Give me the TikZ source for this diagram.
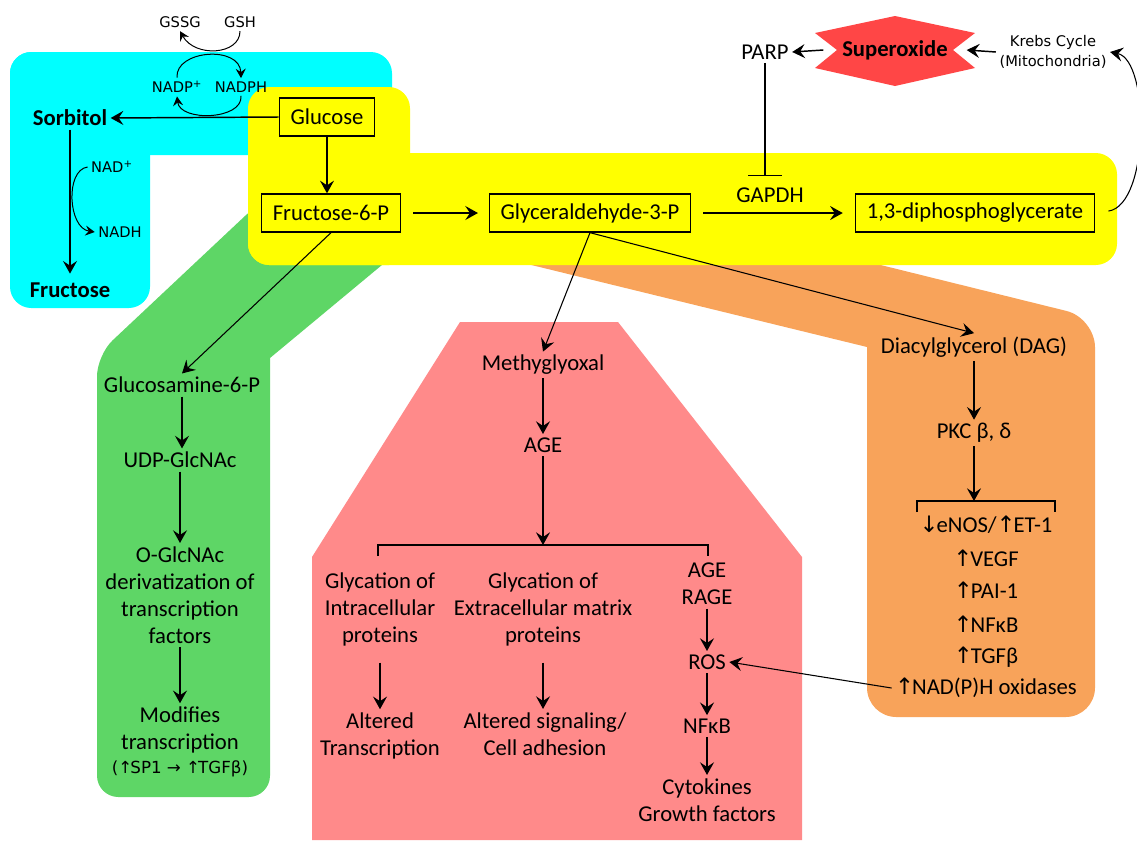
\documentclass[tikz,border=0pt]{standalone}
\usepackage{fontspec}
\setmainfont{Carlito}
\newfontfamily\symsans{DejaVu Sans}
\usetikzlibrary{arrows.meta, positioning}
\newcommand{\uarr}{{\symsans ↑}\kern-1.5pt}
\newcommand{\darr}{{\symsans ↓}\kern-1.5pt}
\definecolor{polyolcyan}{HTML}{00FFFF}
\definecolor{glycoyellow}{HTML}{FFFF00}
\definecolor{hexgreen}{HTML}{5ED666}
\definecolor{agepink}{HTML}{FF8A8A}
\definecolor{dagorange}{HTML}{F8A35A}
\definecolor{superred}{HTML}{FF4646}

\begin{document}
\begin{tikzpicture}[>={Stealth[length=9.5pt,width=10.5pt,inset=3.5pt]}, x=0.75pt, y=-0.75pt,
    every node/.style={font=\fontsize{17}{20.25}\selectfont, inner sep=2.5pt, align=center},
    box/.style={draw, line width=1pt, inner xsep=8.5pt, minimum height=28.5pt},
    heavy/.style={font=\bfseries\fontsize{17}{20.25}\selectfont},
    small/.style={font=\symsans\fontsize{11}{15.5}\selectfont},
    flow/.style={->, line width=1.1pt},
    link/.style={->, line width=0.8pt},
    cofactor/.style={-{Stealth[length=7pt,width=7.5pt,inset=2.5pt]}, line width=0.75pt}]
    \useasboundingbox (0,0) rectangle (1137,840);

    % --- Pathway regions ---
    \fill[polyolcyan, rounded corners=16pt] (10,52) rectangle (392,155);
    \fill[polyolcyan, rounded corners=16pt] (10,52) rectangle (150,308);
    \fill[hexgreen, rounded corners=16pt] (270,358) -- (400,250) -- (262,200) -- (97,355) -- (97,797) -- (270,797) -- (270,358);
    \fill[dagorange, rounded corners=22pt] (867,347) -- (867,717) -- (1095,717) -- (1095,318) -- (820,250) -- (470,250) -- (867,347);
    \fill[agepink] (460,322) -- (618,322) -- (802,557) -- (802,840) -- (312,840) -- (312,557) -- cycle;
    \fill[glycoyellow, rounded corners=16pt] (248,87) rectangle (410,265);
    \fill[glycoyellow, rounded corners=16pt] (248,153) rectangle (1117,265);
    \fill[superred] (895,16) -- (975,33) -- (953,50) -- (975,68) -- (895,86) -- (815,68) -- (837,50) -- (815,33) -- cycle;

    % --- Glycolysis ---
    \node[box] (glc) at (327,117) {Glucose};
    \node[box] (f6p) at (331,213) {Fructose-6-P};
    \node[box] (g3p) at (590,213) {Glyceraldehyde-3-P};
    \node[box] (dpg) at (975,213) {1,3-diphosphoglycerate};
    \node (gapdh) at (770,195) {GAPDH};
    \node (parp) at (765,52) {PARP};
    \node[heavy, inner xsep=14pt] (sox) at (895,50) {Superoxide};
    \node[small] (krebs) at (1053,52) {Krebs Cycle\\(Mitochondria)};

    \draw[flow] (glc.south) -- (glc.south |- f6p.north);
    \draw[flow, shorten <=9pt, shorten >=8pt] (f6p) -- (g3p);
    \draw[flow, shorten <=9pt, shorten >=9pt] (g3p) -- (dpg);
    \draw[-{Bar[width=25pt]}, line width=0.8pt, shorten >=6pt] (parp.south) -- (parp.south |- gapdh.north);
    \draw[flow] (sox.west) -- (parp.east);
    \draw[flow] (krebs.west) -- (sox.east);
    \draw[link, shorten <=10pt] (dpg.east) .. controls (1150,205) and (1150,60) .. (krebs.east);

    % --- Polyol pathway ---
    \node[heavy] (sorb) at (70,118) {Sorbitol};
    \node[heavy] (fru) at (70,290) {Fructose};
    \node[small] (gssg) at (180,22) {GSSG};
    \node[small] (gsh) at (240,22) {GSH};
    \node[small] (nadp) at (177,87) {NADP\textsuperscript{+}};
    \node[small] (nadph) at (241,87) {NADPH};
    \node[small] (nad) at (112,167) {NAD\textsuperscript{+}};
    \node[small] (nadh) at (120,232) {NADH};

    \draw[flow] (glc.west) -- (sorb.east);
    \draw[flow, shorten >=4pt] (sorb) -- (fru);
    \draw[cofactor] (gsh.south) .. controls (240,55) and (195,58) .. (gssg.south);
    \draw[cofactor] (nadp.north) .. controls (175,50) and (240,45) .. (nadph.north);
    \draw[cofactor] (nadph.south) .. controls (243,120) and (180,122) .. (nadp.south);
    \draw[cofactor] (nad.west) .. controls (65,170) and (68,228) .. (nadh.west);

    % --- Hexosamine pathway ---
    \node (glcn) at (182,385) {Glucosamine-6-P};
    \node (udp) at (180,460) {UDP-GlcNAc};
    \node (oglc) at (180,595) {O-GlcNAc\\derivatization of\\transcription\\factors};
    \node (modt) at (180,730) {Modifies\\transcription};
    \node[small, font=\symsans\fontsize{12.5}{15}\selectfont] (sp1) at (180,769) {(\uarr SP1 → \uarr TGFβ)};

    \draw[link] (f6p.south) -- (glcn.north);
    \draw[flow] (glcn.south) -- (glcn.south |- udp.north);
    \draw[flow] (udp) -- (oglc);
    \draw[flow] (oglc) -- (modt);

    % --- AGE pathway ---
    \node (mgo) at (543,365) {Methyglyoxal};
    \node (age) at (543,445) {AGE};
    \coordinate (brl) at (378,545);
    \coordinate (brr) at (708,545);
    \node (gip) at (380,609) {Glycation of\\Intracellular\\proteins};
    \node (gep) at (543,609) {Glycation of\\Extracellular matrix\\proteins};
    \node (rage) at (707,584) {AGE\\RAGE};
    \node (alt) at (380,736) {Altered\\Transcription};
    \node (sig) at (545,734) {Altered signaling/\\Cell adhesion};
    \node (ros) at (707,662) {ROS};
    \node (nfkb) at (707,726) {NFκB};
    \node (cyto) at (707,800) {Cytokines\\Growth factors};

    \draw[link] (g3p.south) -- (mgo.north);
    \draw[flow] (mgo) -- (age);
    \draw[flow] (age) -- (age |- brl);
    \draw[line width=0.8pt] (brl) ++(0,11) -- (brl) -- (brr) -- ++(0,11);
    \draw[flow, shorten <=10pt] (gip) -- (alt);
    \draw[flow, shorten <=10pt] (gep.south) -- (gep.south |- sig.north);
    \draw[flow] (rage) -- (ros);
    \draw[flow] (ros) -- (nfkb);
    \draw[flow] (nfkb) -- (cyto);

    % --- DAG / PKC pathway ---
    \node (dag) at (974,347) {Diacylglycerol (DAG)};
    \node (pkc) at (974,433) {PKC β, δ};
    \coordinate (bol) at (917,501);
    \coordinate (bor) at (1055,501);
    \node (enos) at (986,525) {\darr eNOS/\uarr ET-1};
    \node (vegf) at (986,558) {\uarr VEGF};
    \node (pai) at (986,590) {\uarr PAI-1};
    \node (nfo) at (986,624) {\uarr NFκB};
    \node (tgf) at (986,657) {\uarr TGFβ};
    \node (oxid) at (986,688) {\uarr NAD(P)H oxidases};

    \draw[link] (g3p.south) -- (dag.north);
    \draw[flow] (dag) -- (pkc);
    \draw[flow] (pkc) -- (pkc |- bol);
    \draw[line width=0.8pt] (bol) ++(0,11) -- (bol) -- (bor) -- ++(0,11);
    \draw[link] (oxid.west) -- (ros.east);
\end{tikzpicture}
\end{document}
